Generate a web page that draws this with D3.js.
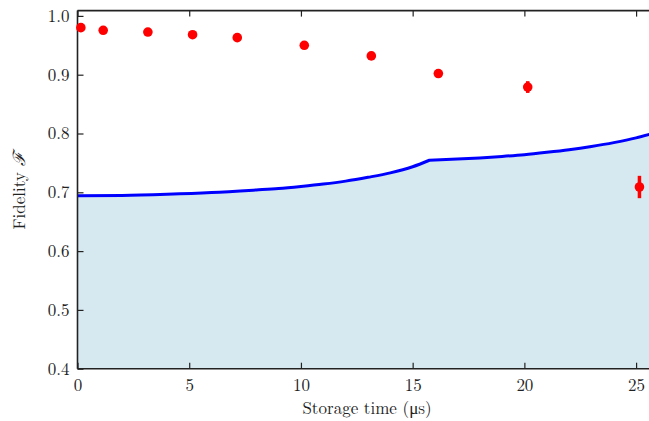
<!DOCTYPE html>
<html><head><meta charset="utf-8">
<script src="https://cdn.jsdelivr.net/npm/d3@7"></script>
<style>body{margin:0;background:#fff}svg{display:block}</style>
</head><body>
<script>
const times = [0.15, 1.15, 3.15, 5.15, 7.15, 10.15, 13.15, 16.15, 20.15, 25.15];
const fidelity = [0.980, 0.9755, 0.9725, 0.968, 0.963, 0.950, 0.932, 0.902, 0.879, 0.709];
const fidelityErr = [0.003, 0.003, 0.003, 0.003, 0.003, 0.003, 0.003, 0.003, 0.010, 0.019];
const kinkTime = 15.75;
const boundTimes = [0, 2, 4, 6, 8, 9, 10, 11, 12, 13, 14, 15, 15.75, 17, 18, 19, 20, 21, 22, 23, 24, 25, 25.6];
const boundValues = [0.694, 0.6945, 0.6965, 0.6995, 0.704, 0.7065, 0.710, 0.714, 0.719, 0.7255, 0.733, 0.7435, 0.7545,
                     0.7565, 0.7585, 0.761, 0.764, 0.768, 0.7725, 0.778, 0.7845, 0.7925, 0.7985];
const xTicks = [0, 5, 10, 15, 20, 25];
const yTicks = [0.4, 0.5, 0.6, 0.7, 0.8, 0.9, 1.0];

const W = 649, H = 421;
const FONT = '"Latin Modern Roman", "Liberation Serif", serif';
const svg = d3.select("body").append("svg").attr("width", W).attr("height", H);
const x = d3.scaleLinear().domain([0, 25.6]).range([77.5, 649.5]);
const y = d3.scaleLinear().domain([0.4, 1.0]).range([368.7, 15.9]);
const yTop = y(1.009), yBot = y(0.4), xL = x(0), xR = x(25.6);

const pts = boundTimes.map((t, i) => [t, boundValues[i]]);
const seg1 = pts.filter(d => d[0] <= kinkTime), seg2 = pts.filter(d => d[0] >= kinkTime);
const lg = d3.line().x(d => x(d[0])).y(d => y(d[1])).curve(d3.curveMonotoneX);
const linePath = lg(seg1) + lg(seg2).replace(/^M/, "L");
const last = seg2[seg2.length - 1];
svg.append("path").attr("d", linePath + `L${x(last[0])},${yBot}L${xL},${yBot}Z`).attr("fill", "#d6e9f1");
svg.append("path").attr("d", linePath).attr("fill", "none").attr("stroke", "#0000ff").attr("stroke-width", 3).attr("stroke-linejoin", "round");

const gx = svg.append("g").attr("transform", `translate(0,${yBot})`)
  .call(d3.axisBottom(x).tickValues(xTicks).tickSize(-6).tickPadding(10).tickFormat(d3.format("d")));
const gxt = svg.append("g").attr("transform", `translate(0,${yTop})`)
  .call(d3.axisTop(x).tickValues(xTicks).tickSize(-6).tickFormat(""));
const gy = svg.append("g").attr("transform", `translate(${xL},0)`)
  .call(d3.axisLeft(y).tickValues(yTicks).tickSize(-6).tickPadding(8).tickFormat(d3.format(".1f")));
[gx, gxt, gy].forEach(g => {
  g.select(".domain").remove();
  g.selectAll(".tick line").attr("stroke", "#222").attr("stroke-width", 1.2);
  g.selectAll(".tick text").style("font-family", FONT).style("font-size", "17px").attr("fill", "#222");
});
svg.append("line").attr("x1", xL).attr("x2", xL).attr("y1", yTop).attr("y2", yBot).attr("stroke", "#222").attr("stroke-width", 1.6);
svg.append("line").attr("x1", xL).attr("x2", xR).attr("y1", yTop).attr("y2", yTop).attr("stroke", "#222").attr("stroke-width", 1.6);
svg.append("line").attr("x1", xL).attr("x2", xR).attr("y1", yBot).attr("y2", yBot).attr("stroke", "#222").attr("stroke-width", 1.6);

const g = svg.append("g");
times.forEach((t, i) => {
  g.append("line").attr("x1", x(t)).attr("x2", x(t))
    .attr("y1", y(fidelity[i] - fidelityErr[i])).attr("y2", y(fidelity[i] + fidelityErr[i]))
    .attr("stroke", "#ff0000").attr("stroke-width", 3.5);
  g.append("circle").attr("cx", x(t)).attr("cy", y(fidelity[i])).attr("r", 4.8).attr("fill", "#ff0000");
});

svg.append("text").attr("x", 367).attr("y", 414).attr("text-anchor", "middle")
  .style("font-family", FONT).style("font-size", "17px").attr("fill", "#222").text("Storage time (μs)");
const yl = svg.append("text").attr("transform", "translate(25,191) rotate(-90)").attr("text-anchor", "middle")
  .style("font-family", FONT).style("font-size", "17px").attr("fill", "#222");
yl.append("tspan").text("Fidelity ");
yl.append("tspan").style("font-style", "italic").text("ℱ");
</script>
</body></html>
